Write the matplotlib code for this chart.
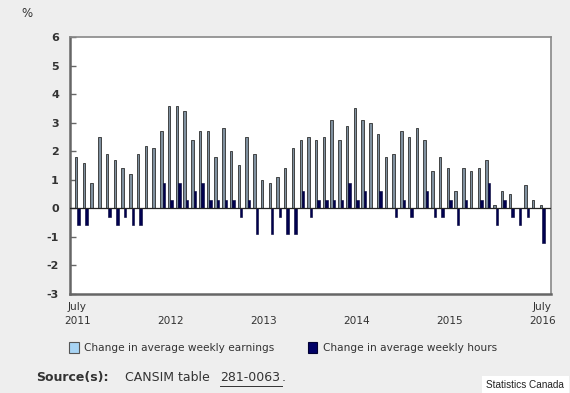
import matplotlib.pyplot as plt
import numpy as np

plt.rcParams['axes.unicode_minus'] = False

# monthly year-over-year change (%), July 2011 .. July 2016
earnings = [1.8, 1.6, 0.9, 2.5, 1.9, 1.7, 1.4, 1.2, 1.9, 2.2,
            2.1, 2.7, 3.6, 3.6, 3.4, 2.4, 2.7, 2.7, 1.8, 2.8,
            2.0, 1.5, 2.5, 1.9, 1.0, 0.9, 1.1, 1.4, 2.1, 2.4,
            2.5, 2.4, 2.5, 3.1, 2.4, 2.9, 3.5, 3.1, 3.0, 2.6,
            1.8, 1.9, 2.7, 2.5, 2.8, 2.4, 1.3, 1.8, 1.4, 0.6,
            1.4, 1.3, 1.4, 1.7, 0.1, 0.6, 0.5, 0.0, 0.8, 0.3,
            0.1]
hours = [-0.6, -0.6, 0.0, 0.0, -0.3, -0.6, -0.3, -0.6, -0.6, 0.0,
         0.0, 0.9, 0.3, 0.9, 0.3, 0.6, 0.9, 0.3, 0.3, 0.3,
         0.3, -0.3, 0.3, -0.9, 0.0, -0.9, -0.3, -0.9, -0.9, 0.6,
         -0.3, 0.3, 0.3, 0.3, 0.3, 0.9, 0.3, 0.6, 0.0, 0.6,
         0.0, -0.3, 0.3, -0.3, 0.0, 0.6, -0.3, -0.3, 0.3, -0.6,
         0.3, 0.0, 0.3, 0.9, -0.6, 0.3, -0.3, -0.6, -0.3, 0.0,
         -1.2]
tick_pos = [0, 12, 24, 36, 48, 60]
tick_lab = ['July\n2011', '\n2012', '\n2013', '\n2014', '\n2015', 'July\n2016']

bg = '#eeeeee'
txt = '#333333'

fig = plt.figure(figsize=(5.7, 3.93), dpi=100, facecolor=bg)
ax = fig.add_axes([0.1228, 0.2519, 0.9667 - 0.1228, 0.9059 - 0.2519])
ax.set_facecolor('white')

x = np.arange(len(earnings))
w = 0.32
ax.bar(x - w / 2, earnings, w, color='#7f909f', edgecolor='#2e2e2e', linewidth=0.6, zorder=2)
ax.bar(x + w / 2, hours, w, color='#000050', edgecolor='#000033', linewidth=0.4, zorder=2)
ax.axhline(0, color='#222222', lw=0.9, zorder=3)

ax.set_xlim(-0.95, 61.15)
ax.set_ylim(-3, 6)
ax.set_yticks(range(-3, 7))
ax.set_xticks(tick_pos)
ax.set_xticklabels(tick_lab, fontsize=7.6, color=txt, linespacing=1.5)
ax.tick_params(axis='x', length=0, pad=6)
ax.tick_params(axis='y', direction='in', length=4, width=1, color='#666666',
               labelsize=8, labelcolor=txt, pad=8)
for lab in ax.get_yticklabels():
    lab.set_fontweight('bold')
for s in ['left', 'bottom']:
    ax.spines[s].set_color('#666666')
    ax.spines[s].set_linewidth(1.8)
for s in ['top', 'right']:
    ax.spines[s].set_color('#888888')
    ax.spines[s].set_linewidth(1.2)

fig.text(0.038, 0.965, '%', fontsize=8.5, color=txt, va='center')

# legend
fig.patches.append(plt.Rectangle((0.121, 0.101), 0.017, 0.028, transform=fig.transFigure,
                                 facecolor='#a8d4f4', edgecolor='#555555', lw=0.8))
fig.text(0.147, 0.114, 'Change in average weekly earnings', fontsize=7.6, color=txt, va='center')
fig.patches.append(plt.Rectangle((0.540, 0.101), 0.017, 0.028, transform=fig.transFigure,
                                 facecolor='#000066', edgecolor='#000033', lw=0.8))
fig.text(0.566, 0.114, 'Change in average weekly hours', fontsize=7.6, color=txt, va='center')

# source line
fig.text(0.063, 0.040, 'Source(s):', fontsize=9, fontweight='bold', color=txt, va='center')
fig.text(0.219, 0.040, 'CANSIM table ', fontsize=9, color=txt, va='center')
fig.text(0.386, 0.040, '281-0063', fontsize=9, color=txt, va='center')
fig.text(0.494, 0.040, '.', fontsize=9, color=txt, va='center')
fig.lines.append(plt.Line2D([0.386, 0.494], [0.019, 0.019], transform=fig.transFigure,
                            color=txt, lw=0.7))

fig.text(0.990, 0.020, 'Statistics Canada', fontsize=7.2, family='Liberation Sans',
         color='#222222', ha='right', va='center',
         bbox=dict(facecolor='white', edgecolor='none', pad=3))

fig.savefig('out.png', dpi=100, facecolor=bg)
